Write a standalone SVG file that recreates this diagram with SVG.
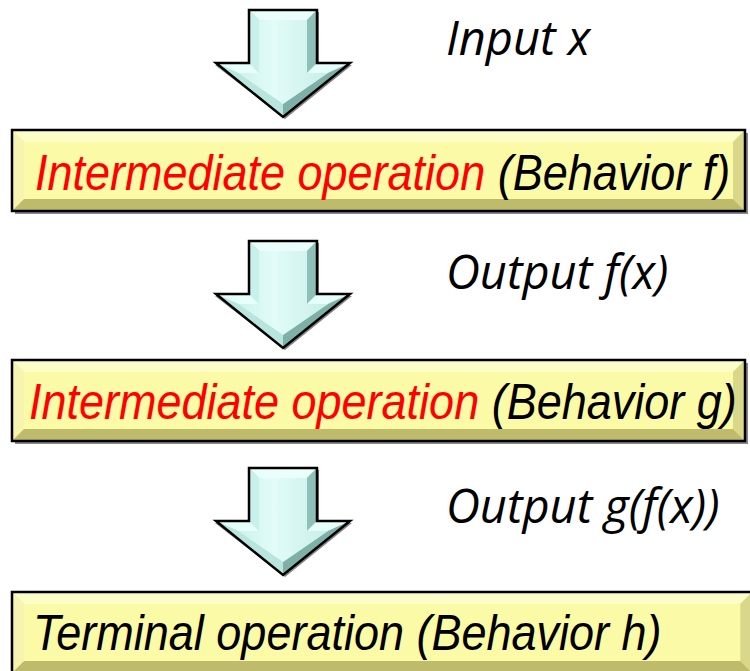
<svg xmlns="http://www.w3.org/2000/svg" width="750" height="671" viewBox="0 0 750 671">
<defs>
<style>
.lbl{font-family:"Open Sans","Noto Sans","Liberation Sans",sans-serif;font-style:italic;font-size:47px;fill:#000}
.bt{font-family:"Liberation Sans",Arial,sans-serif;font-style:italic;font-size:45px;fill:#000}
.red{fill:#ff0000}
.edge{stroke:#000;stroke-width:2.5;stroke-linejoin:miter;fill:none}
</style>
<linearGradient id="afill" x1="0" y1="0" x2="1" y2="0">
<stop offset="0" stop-color="#cdf2ec"/>
<stop offset="0.4" stop-color="#e2fcf8"/>
<stop offset="1" stop-color="#c8eee8"/>
</linearGradient>
<g id="arrow">
<polygon points="-32,2 36,2 36,55 69,55 2,109 -68,55 -32,55" fill="#333" opacity="0.6"/>
<polygon points="-34,0 34,0 34,53 67,53 0,107 -67,53 -34,53" fill="#a9d6cf"/>
<polygon points="-34,0 34,0 24,10 -24,10" fill="#eafffb"/>
<polygon points="-34,0 -24,10 -24,63 -34,53" fill="#c9f1eb"/>
<polygon points="34,0 24,10 24,63 34,53" fill="#8fc0b8"/>
<polygon points="34,53 67,53 45,63 24,63" fill="#e6fffb"/>
<polygon points="-34,53 -67,53 -45,63 -24,63" fill="#e6fffb"/>
<polygon points="-67,53 0,107 0,94 -45,63" fill="#b8e6df"/>
<polygon points="67,53 0,107 0,94 45,63" fill="#7fb0a8"/>
<polygon points="-24,10 24,10 24,63 45,63 0,94 -45,63 -24,63" fill="url(#afill)"/>
<polygon points="-34,0 34,0 34,53 67,53 0,107 -67,53 -34,53" class="edge"/>
</g>
<g id="boxbev">
<rect x="3" y="3" width="733" height="81" fill="#555" opacity="0.7"/>
<rect x="0" y="0" width="733" height="81" fill="#f3f19a"/>
<polygon points="0,0 733,0 721,12 12,12" fill="#fdfdc8"/>
<polygon points="0,0 12,12 12,69 0,81" fill="#f6f4b0"/>
<polygon points="733,0 721,12 721,69 733,81" fill="#d9d78a"/>
<polygon points="0,81 12,69 721,69 733,81" fill="#bebc6c"/>
<rect x="12" y="12" width="709" height="57" fill="#fbfaa6"/>
<rect x="0" y="0" width="733" height="81" fill="none" stroke="#000" stroke-width="2.5"/>
</g>
</defs>
<g id="connectors">
<use href="#arrow" transform="translate(283,10)"/>
<use href="#arrow" transform="translate(283,241)"/>
<use href="#arrow" transform="translate(283,468)"/>
<text class="lbl" x="446" y="55">Input x</text>
<text class="lbl" x="446" y="289">Output f(x)</text>
<text class="lbl" x="446" y="523">Output g(f(x))</text>
</g>
<g id="node-f">
<use href="#boxbev" transform="translate(12,130)"/>
<text class="bt" transform="translate(35,190) scale(1,1.13)"><tspan class="red">Intermediate operation</tspan> (Behavior f)</text>
</g>
<g id="node-g">
<use href="#boxbev" transform="translate(12,360)"/>
<text class="bt" transform="translate(29,419) scale(1,1.13)"><tspan class="red">Intermediate operation</tspan> (Behavior g)</text>
</g>
<g id="node-h">
<use href="#boxbev" transform="translate(12,592) scale(1.01,1)"/>
<text class="bt" transform="translate(33,650) scale(1,1.13)">Terminal operation (Behavior h)</text>
</g>
</svg>
